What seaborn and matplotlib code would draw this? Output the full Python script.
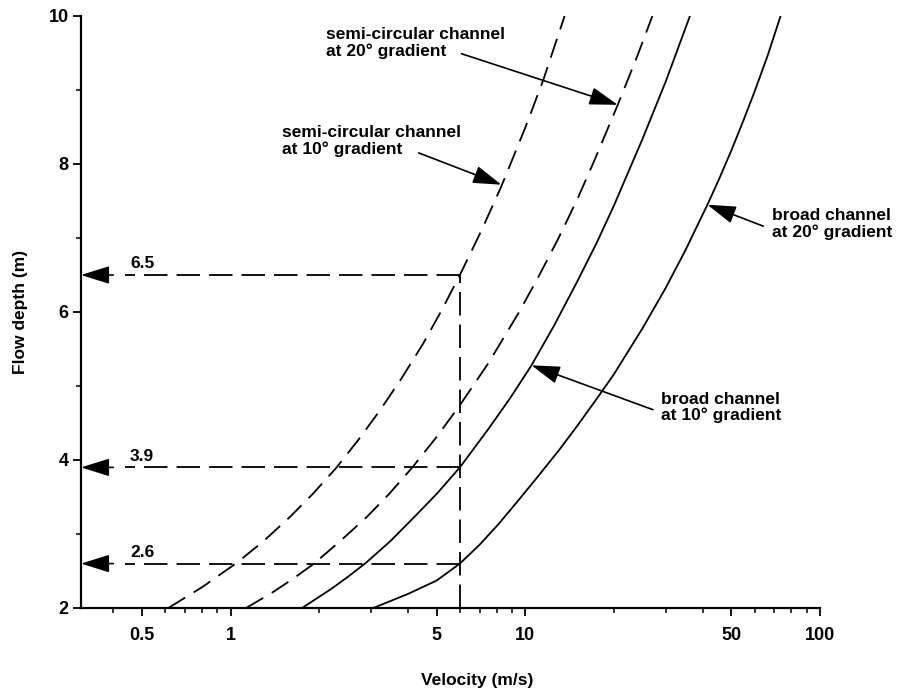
import numpy as np
import pandas as pd
import matplotlib
matplotlib.use("Agg")
import matplotlib.pyplot as plt
import seaborn as sns
from matplotlib.ticker import LogLocator, NullFormatter, MultipleLocator

sns.set_theme(style="ticks")
plt.rcParams['font.family'] = ['Liberation Sans', 'DejaVu Sans']

# ---- data ----
semi10_v = [0.615, 0.8, 1.05, 1.3, 1.6, 1.9, 2.28, 2.7, 3.2, 3.8, 4.5, 5.2, 6.0,
            7.1, 8.3, 10.0, 11.5, 13.6]
semi10_d = [2.0, 2.28, 2.61, 2.91, 3.24, 3.54, 3.89, 4.26, 4.66, 5.10, 5.57, 6.02, 6.5,
            7.10, 7.70, 8.49, 9.13, 10.0]

semi20_v = [1.13, 1.4, 1.65, 1.92, 2.35, 2.9, 3.45, 4.12, 5.0, 6.0, 7.5, 9.5, 11.0,
            12.9, 15.0, 17.0, 20.6, 24.0, 27.0]
semi20_d = [2.0, 2.22, 2.41, 2.60, 2.90, 3.23, 3.54, 3.89, 4.31, 4.74, 5.31, 5.99, 6.45,
            6.98, 7.52, 8.01, 8.80, 9.46, 10.0]

broad10_v = [1.75, 2.2, 2.5, 2.88, 3.5, 4.25, 5.0, 6.0, 7.5, 8.9, 10.5, 12.5, 15.0,
             17.5, 20.0, 25.0, 30.0, 36.2]
broad10_d = [2.0, 2.26, 2.42, 2.61, 2.91, 3.25, 3.54, 3.9, 4.42, 4.84, 5.28, 5.81, 6.41,
             6.94, 7.44, 8.34, 9.12, 10.0]

broad20_v = [3.05, 4.0, 5.0, 6.0, 7.0, 8.1, 9.5, 11.0, 13.0, 15.0, 17.5, 20.0, 25.0,
             30.0, 35.0, 41.5, 45.5, 50.0, 55.0, 60.0, 66.5, 73.5]
broad20_d = [2.0, 2.19, 2.37, 2.6, 2.855, 3.13, 3.46, 3.77, 4.13, 4.46, 4.83, 5.16, 5.78,
             6.33, 6.84, 7.45, 7.80, 8.18, 8.59, 8.98, 9.47, 10.0]

series_names = ["semi-circular channel at 10° gradient",
                "semi-circular channel at 20° gradient",
                "broad channel at 10° gradient",
                "broad channel at 20° gradient"]

read_velocity = 6.0
read_depths = [6.5, 3.9, 2.6]
read_labels = ["6.5", "3.9", "2.6"]

xtick_vals = [0.5, 1, 5, 10, 50, 100]
xtick_labels = ["0.5", "1", "5", "10", "50", "100"]
ytick_vals = [2, 4, 6, 8, 10]
ytick_labels = ["2", "4", "6", "8", "10"]

# ---- build table ----
frames = []
for name, v, d in zip(series_names,
                      [semi10_v, semi20_v, broad10_v, broad20_v],
                      [semi10_d, semi20_d, broad10_d, broad20_d]):
    frames.append(pd.DataFrame({"Velocity": v, "Depth": d, "Series": name}))
df = pd.concat(frames, ignore_index=True)

fig = plt.figure(figsize=(9.08, 6.93), dpi=100)
ax = fig.add_axes([81 / 908, 85 / 693, 739 / 908, 592 / 693])
ax.set_xscale("log")

dash_map = {series_names[0]: (11, 5.5), series_names[1]: (11, 5.5),
            series_names[2]: "", series_names[3]: ""}
sns.lineplot(data=df, x="Velocity", y="Depth", style="Series", dashes=dash_map,
             estimator=None, color="black", linewidth=1.3, legend=False, ax=ax)

ax.set_xlim(0.311, 100)
ax.set_ylim(2, 10)

# reading lines
ax.plot([read_velocity, read_velocity], [2, max(read_depths)], color="black",
        lw=1.3, dashes=(13, 5))
arrow_start = 0.40
dash_stop = 0.44
for d, lab in zip(read_depths, read_labels):
    ax.plot([read_velocity, dash_stop], [d, d], color="black", lw=1.3, dashes=(13, 5))
    ax.annotate("", xy=(0.311, d), xytext=(arrow_start, d),
                arrowprops=dict(arrowstyle="-|>,head_length=0.8,head_width=0.25",
                                mutation_scale=22, color="black", lw=1.2,
                                shrinkA=0, shrinkB=0))
    ax.text(0.456, d + 0.05, lab, fontsize=12.5, fontweight="bold",
            ha="left", va="bottom", color="black")

# curve annotations
ann_kw = dict(fontsize=12.5, fontweight="bold", ha="left", va="center",
              linespacing=1.1, color="black")
arrow_kw = dict(arrowstyle="-|>,head_length=0.8,head_width=0.25", mutation_scale=22,
                color="black", lw=1.2, shrinkA=0, shrinkB=0)
ax.text(2.11, 9.63, "semi-circular channel\nat 20° gradient", **ann_kw)
ax.annotate("", xy=(20.6, 8.80), xytext=(6.08, 9.49), arrowprops=arrow_kw)
ax.text(1.50, 8.31, "semi-circular channel\nat 10° gradient", **ann_kw)
ax.annotate("", xy=(8.3, 7.72), xytext=(4.35, 8.15), arrowprops=arrow_kw)
ax.text(68.8, 7.19, "broad channel\nat 20° gradient", **ann_kw)
ax.annotate("", xy=(41.5, 7.45), xytext=(64.2, 7.16), arrowprops=arrow_kw)
ax.text(28.8, 4.71, "broad channel\nat 10° gradient", **ann_kw)
ax.annotate("", xy=(10.5, 5.28), xytext=(27.1, 4.68), arrowprops=arrow_kw)

# axes styling
sns.despine(ax=ax)
for s in ["left", "bottom"]:
    ax.spines[s].set_linewidth(1.6)
    ax.spines[s].set_color("black")

ax.set_xticks(xtick_vals)
ax.set_xticklabels(xtick_labels)
ax.xaxis.set_minor_locator(LogLocator(base=10, subs=np.arange(2, 10), numticks=50))
ax.xaxis.set_minor_formatter(NullFormatter())
ax.set_yticks(ytick_vals)
ax.set_yticklabels(ytick_labels)
ax.yaxis.set_minor_locator(MultipleLocator(1))

ax.tick_params(axis="both", which="major", direction="out", length=6, width=1.3,
               color="black", labelsize=13, labelcolor="black")
ax.tick_params(axis="x", which="major", pad=8)
ax.tick_params(axis="y", which="major", pad=3)
ax.tick_params(axis="both", which="minor", direction="out", length=3.5, width=1.1,
               color="black")
for lbl in ax.get_xticklabels() + ax.get_yticklabels():
    lbl.set_fontweight("bold")

ax.set_xlabel("Velocity (m/s)", fontsize=12.5, fontweight="bold", color="black")
ax.xaxis.set_label_coords(0.536, -0.110)
ax.set_ylabel("Flow depth (m)", fontsize=12.5, fontweight="bold", color="black")
ax.yaxis.set_label_coords(-0.072, 0.5)
ax.grid(False)

fig.savefig("out.png", dpi=100)
